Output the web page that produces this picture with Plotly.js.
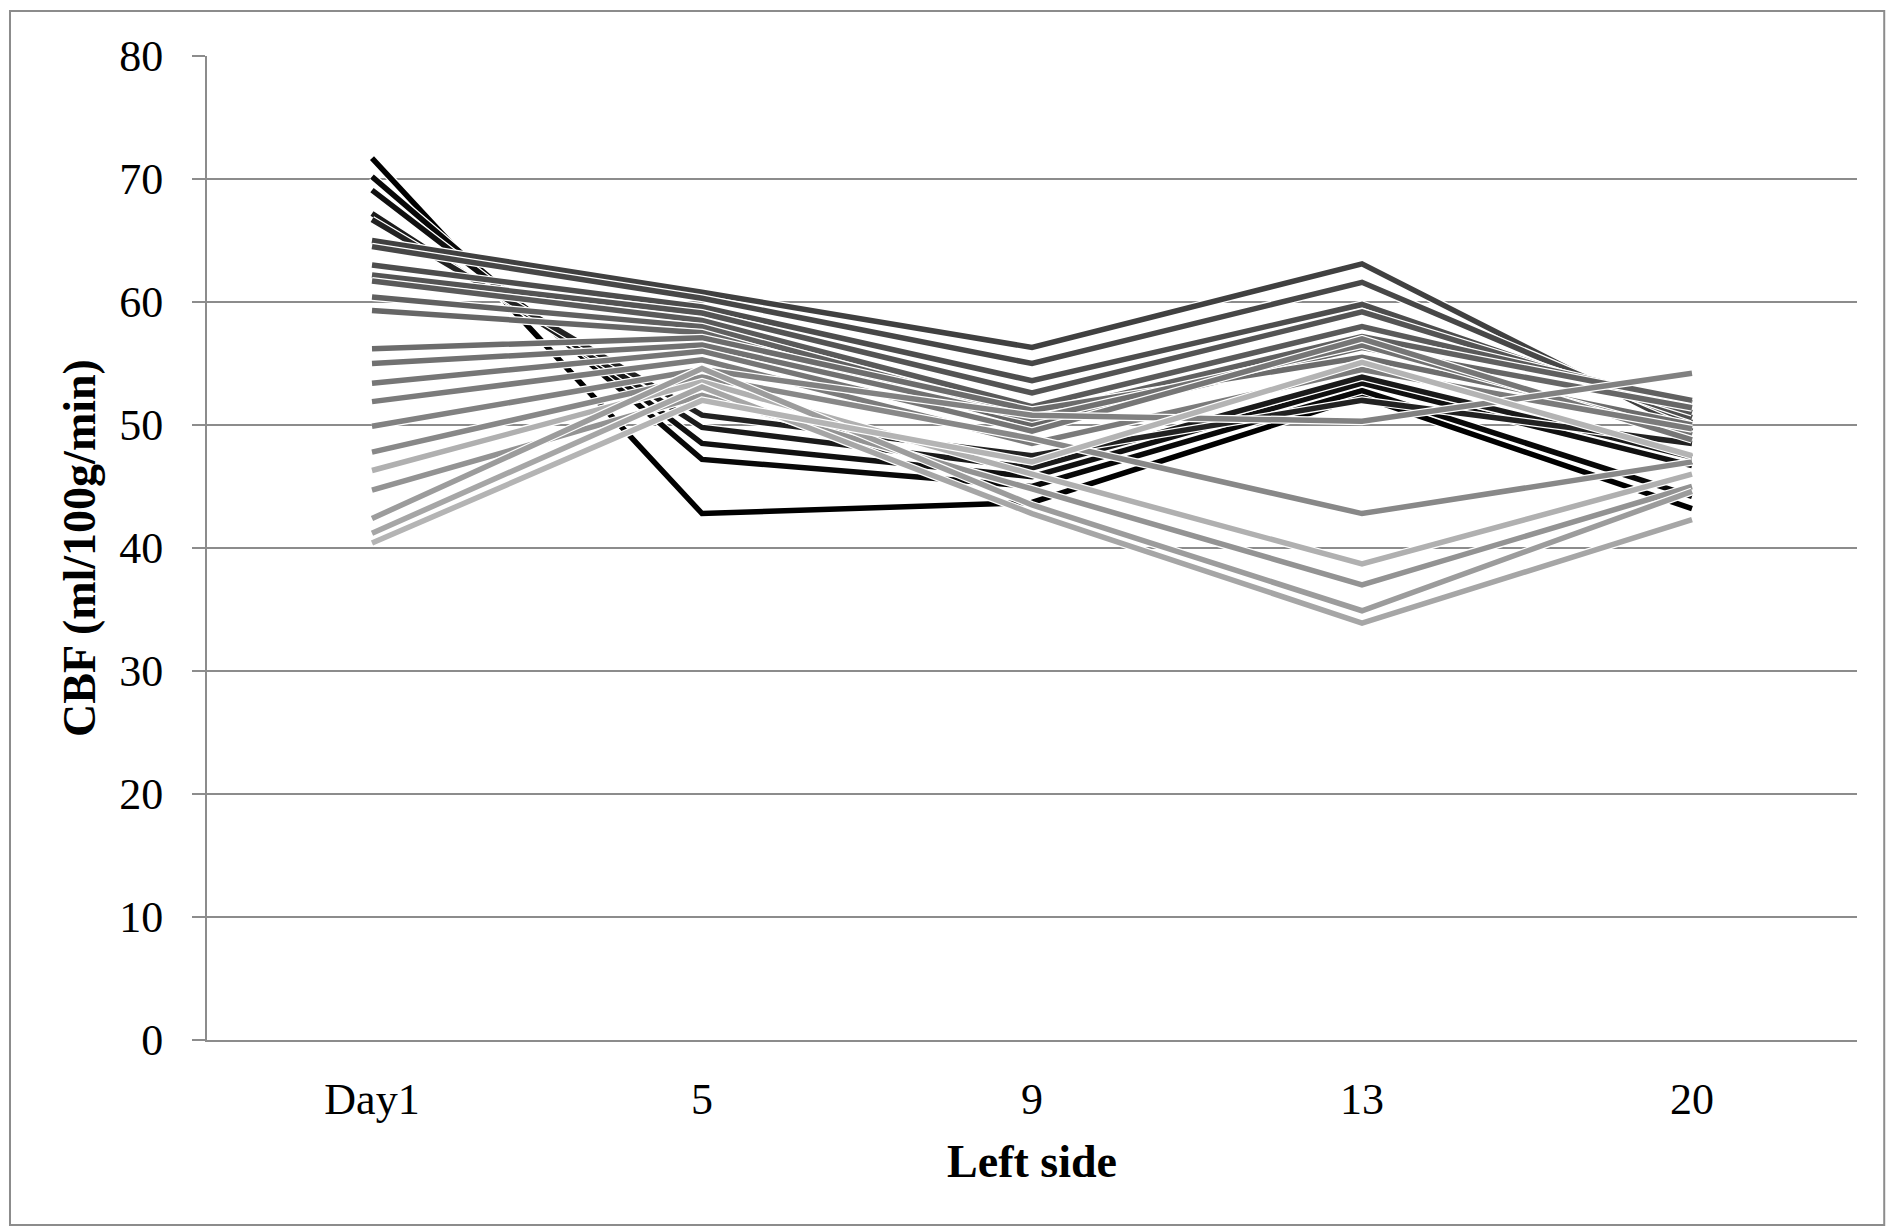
<!DOCTYPE html>
<html>
<head>
<meta charset="utf-8">
<script src="https://cdn.plot.ly/plotly-3.0.1.min.js"></script>
<style>
html,body{margin:0;padding:0;background:#fff;}
#chart{width:1887px;height:1227px;}
</style>
</head>
<body>
<div id="chart"></div>
<script>
// Time points (category axis)
const categories = ["Day1", "5", "9", "13", "20"];

// CBF values per subject at each time point (ml/100g/min), subjects 1..23
const day1  = [71.7, 70.2, 69.1, 67.2, 66.7, 65.0, 64.5, 63.0, 62.2, 61.7, 60.4, 59.3, 56.2, 55.0, 53.4, 51.9, 49.9, 47.8, 46.3, 44.7, 42.4, 41.2, 40.4];
const day5  = [42.8, 47.2, 48.5, 49.8, 50.8, 60.8, 60.3, 59.6, 59.1, 58.5, 58.0, 57.5, 57.1, 56.5, 56.0, 55.3, 54.5, 53.9, 53.5, 52.4, 54.6, 53.1, 52.0];
const day9  = [43.7, 45.0, 45.8, 46.5, 47.5, 56.3, 55.0, 53.6, 52.6, 51.5, 50.8, 50.0, 51.2, 50.5, 49.5, 48.5, 50.8, 48.9, 46.0, 44.8, 43.5, 42.8, 47.0];
const day13 = [52.3, 52.8, 53.4, 53.9, 52.0, 63.1, 61.6, 59.8, 59.2, 58.0, 57.2, 56.3, 55.5, 56.5, 57.0, 54.5, 50.3, 42.8, 38.7, 37.0, 34.9, 33.9, 55.1];
const day20 = [43.2, 44.2, 46.7, 47.4, 48.5, 49.5, 50.2, 50.6, 51.0, 51.8, 52.0, 51.4, 50.0, 49.2, 48.8, 49.7, 54.2, 47.0, 46.0, 45.0, 44.6, 42.3, 47.5];

// Line colours (style, not data)
const lineColors = ["#000000","#080808","#101010","#1a1a1a","#222222","#404040","#474747","#4d4d4d","#545454","#5a5a5a","#606060","#666666","#6c6c6c","#717171","#767676","#7b7b7b","#818181","#888888","#b0b0b0","#939393","#9c9c9c","#a6a6a6","#b4b4b4"];

const traces = [];
for (let i = 0; i < day1.length; i++) {
  const ys = [day1[i], day5[i], day9[i], day13[i], day20[i]];
  traces.push({x: categories, y: ys, type: "scatter", mode: "lines",
    line: {color: "#ffffff", width: 8}, hoverinfo: "skip", showlegend: false});
  traces.push({x: categories, y: ys, type: "scatter", mode: "lines",
    line: {color: lineColors[i], width: 5.5}, name: "S" + (i + 1), showlegend: false});
}

const font = "Liberation Serif, Times New Roman, serif";
const layout = {
  width: 1887, height: 1227,
  paper_bgcolor: "#ffffff", plot_bgcolor: "#ffffff",
  margin: {l: 207, r: 30, t: 56, b: 187},
  showlegend: false,
  font: {family: font, color: "#000"},
  xaxis: {
    type: "category", range: [-0.5, 4.5],
    showgrid: false, zeroline: false,
    showline: true, linecolor: "#8c8c8c", linewidth: 2,
    ticks: "", tickfont: {family: font, size: 44, color: "#000"},
    ticklabelstandoff: 19,
    title: {text: "<b>Left side</b>", font: {family: font, size: 46, color: "#000"}, standoff: 22}
  },
  yaxis: {
    range: [0, 80], dtick: 10, tick0: 0,
    showgrid: true, gridcolor: "#8c8c8c", gridwidth: 2,
    zeroline: false,
    showline: true, linecolor: "#8c8c8c", linewidth: 2,
    ticks: "outside", ticklen: 13, tickcolor: "#8c8c8c", tickwidth: 2,
    tickfont: {family: font, size: 44, color: "#000"},
    ticklabelstandoff: 20,
    title: {text: "<b>CBF (ml/100g/min)</b>", font: {family: font, size: 46, color: "#000"}, standoff: 9}
  },
  shapes: [{
    type: "rect", xref: "paper", yref: "paper",
    x0: -0.1194, x1: 1.0165, y0: -0.188, y1: 1.0457,
    line: {color: "#8c8c8c", width: 2}, fillcolor: "rgba(0,0,0,0)", layer: "below"
  }]
};

Plotly.newPlot("chart", traces, layout, {displayModeBar: false, staticPlot: true});
</script>
</body>
</html>
